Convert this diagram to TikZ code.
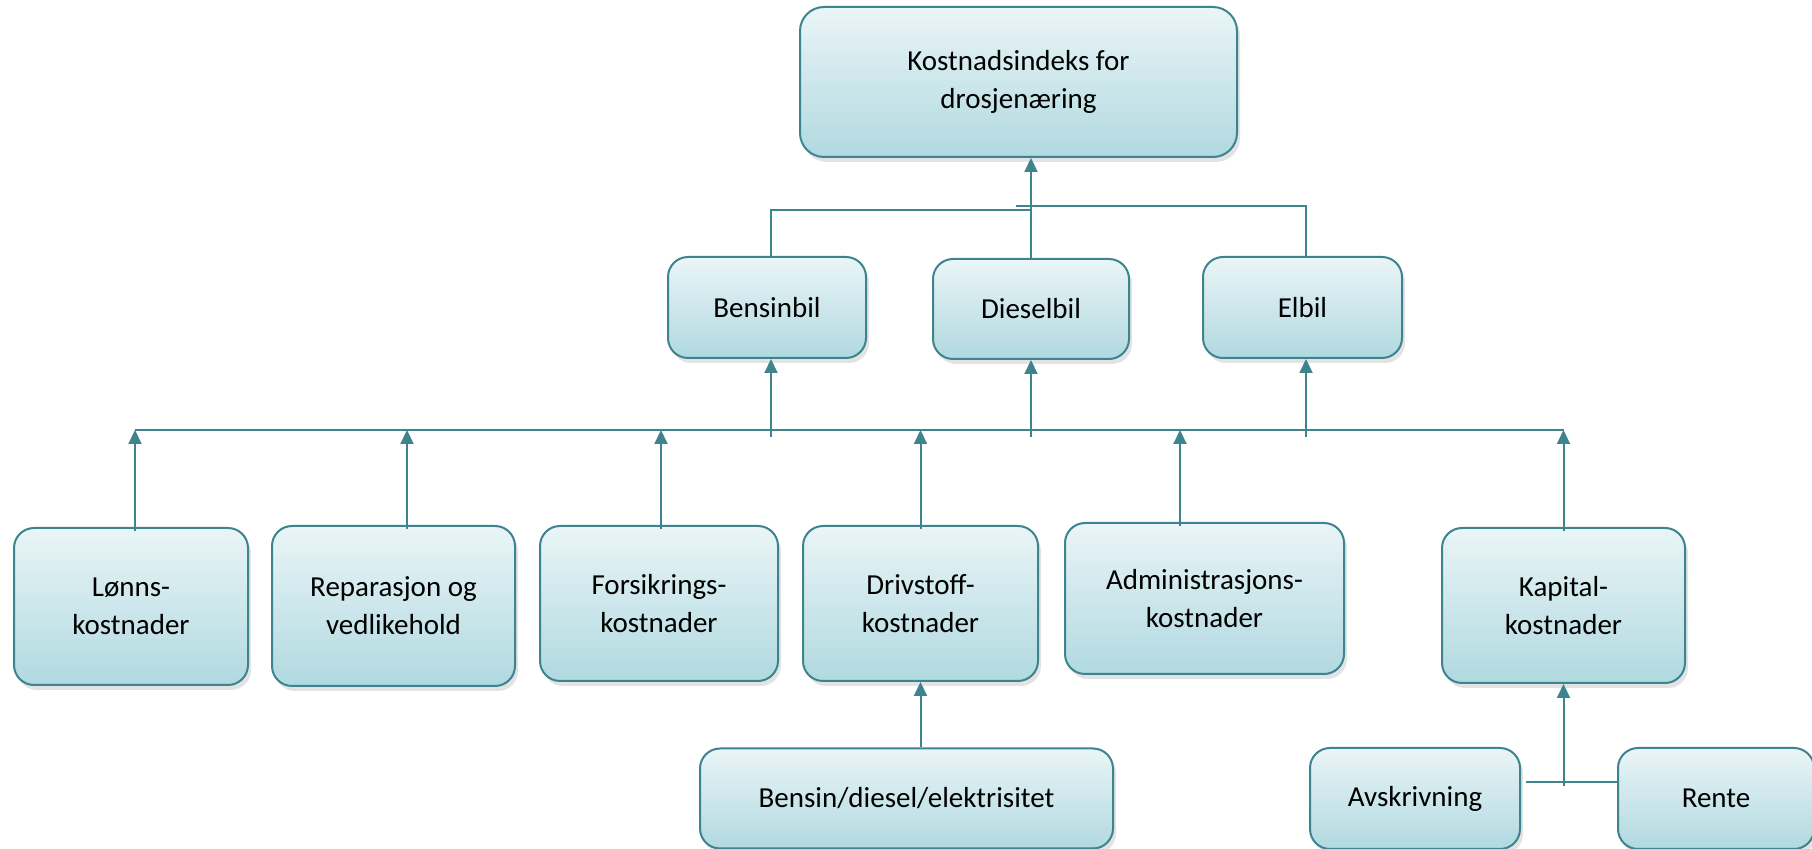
\documentclass[tikz,border=0pt]{standalone}
\usepackage{fontspec}
\setmainfont{Carlito}
\definecolor{boxTeal}{RGB}{62,132,143}
\definecolor{boxTop}{RGB}{234,245,247}
\definecolor{boxBottom}{RGB}{176,217,224}
\usetikzlibrary{arrows.meta,shadows,calc}

\begin{document}
\begin{tikzpicture}[x=0.5pt, y=-0.5pt, every node/.style={font=\fontsize{14.5}{19}\selectfont},
    costbox/.style={rectangle, rounded corners=10pt, draw=boxTeal, line width=1pt, top color=boxTop, bottom color=boxBottom, align=center, inner sep=0pt, drop shadow={opacity=0.22, shadow xshift=1.5pt, shadow yshift=-2.5pt}},
    link/.style={draw=boxTeal, line width=1pt},
    uparrow/.style={link, -{Triangle[length=7pt, width=6.5pt]}}]
    \useasboundingbox (0,0) rectangle (1812,849);

    % top level
    \node[costbox, rounded corners=12pt, minimum width=218.5pt, minimum height=75pt] (index) at (1018.5,82) {Kostnadsindeks for\\drosjenæring};

    % car types
    \node[costbox, minimum width=99pt, minimum height=50.5pt] (bensin) at (767,307.5) {Bensinbil};
    \node[costbox, minimum width=98pt, minimum height=50pt] (diesel) at (1031,309) {Dieselbil};
    \node[costbox, minimum width=99.5pt, minimum height=50.5pt] (elbil) at (1302.5,307.5) {Elbil};

    % cost groups
    \node[costbox, minimum width=117pt, minimum height=78.5pt] (lonn) at (131,606.5) {Lønns-\\kostnader};
    \node[costbox, minimum width=121.5pt, minimum height=80pt] (rep) at (393.5,606) {Reparasjon og\\vedlikehold};
    \node[costbox, minimum width=119pt, minimum height=77.5pt] (fors) at (659,603.5) {Forsikrings-\\kostnader};
    \node[costbox, minimum width=117.5pt, minimum height=77.5pt] (driv) at (920.5,603.5) {Drivstoff-\\kostnader};
    \node[costbox, minimum width=139.5pt, minimum height=75.5pt] (adm) at (1204.5,598.5) {Administrasjons-\\kostnader};
    \node[costbox, minimum width=121.5pt, minimum height=77.5pt] (kap) at (1563.5,605.5) {Kapital-\\kostnader};

    % sub items
    \node[costbox, minimum width=206.5pt, minimum height=50pt] (energi) at (906.5,798.5) {Bensin/diesel/elektrisitet};
    \node[costbox, minimum width=105pt, minimum height=50.5pt] (avskr) at (1415,798.5) {Avskrivning};
    \node[costbox, minimum width=98pt, minimum height=50.5pt] (rente) at (1716,798.5) {Rente};

    \coordinate (tjL) at (0,210);
    \coordinate (tjR) at (0,206);
    \coordinate (bus) at (0,430);
    \coordinate (busLow) at (0,437);
    \coordinate (kj) at (1566,782);

    % car types to index
    \draw[uparrow] (diesel.north) -- (diesel.north |- index.south);
    \draw[link] ($(bensin.north)+(4,0)$) |- (diesel.north |- tjL);
    \draw[link] ($(elbil.north)+(3.5,0)$) |- ($(diesel.north |- tjR)+(-15,0)$);

    % cost groups to car types
    \draw[link] ($(lonn.north |- bus)+(4,0)$) -- (kap.north |- bus);
    \draw[uparrow] ($(bensin.south |- busLow)+(4,0)$) -- ($(bensin.south)+(4,0)$);
    \draw[uparrow] (diesel.south |- busLow) -- (diesel.south);
    \draw[uparrow] ($(elbil.south |- busLow)+(3.5,0)$) -- ($(elbil.south)+(3.5,0)$);

    \draw[uparrow] ($(lonn.north)+(4,4)$) -- ($(lonn.north |- bus)+(4,0)$);
    \draw[uparrow] ($(rep.north)+(13.5,4)$) -- ($(rep.north |- bus)+(13.5,0)$);
    \draw[uparrow] ($(fors.north)+(2,4)$) -- ($(fors.north |- bus)+(2,0)$);
    \draw[uparrow] ($(driv.north)+(0,4)$) -- (driv.north |- bus);
    \draw[uparrow] ($(adm.north)+(-24.5,4)$) -- ($(adm.north |- bus)+(-24.5,0)$);
    \draw[uparrow] ($(kap.north)+(0,4)$) -- (kap.north |- bus);

    % sub items to cost groups
    \draw[uparrow] (driv.south |- energi.north) -- (driv.south);
    \draw[link] ($(avskr.east |- kj)+(5,0)$) -- (rente.west |- kj);
    \draw[uparrow] ($(kap.south |- kj)+(0,4)$) -- (kap.south);
\end{tikzpicture}
\end{document}
